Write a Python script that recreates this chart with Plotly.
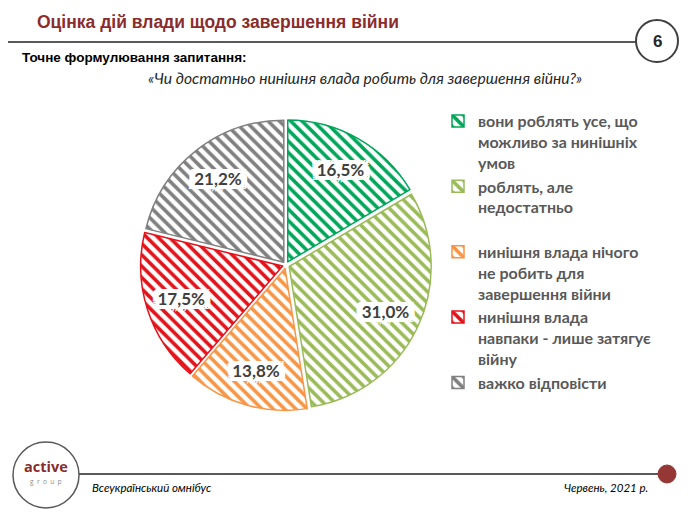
import plotly.graph_objects as go

# ---- data ----
categories = [
    "вони роблять усе, що<br>можливо за нинішніх<br>умов",
    "роблять, але<br>недостатньо<br> ",
    "нинішня влада нічого<br>не робить для<br>завершення війни",
    "нинішня влада<br>навпаки - лише затягує<br>війну",
    "важко відповісти",
]
values = [16.5, 31.0, 13.8, 17.5, 21.2]
colors = ["#00A65A", "#9BBB59", "#F79646", "#E3131B", "#808080"]
labels_text = [f"{v:.1f}".replace(".", ",") + "%" for v in values]

W, H = 699, 517


def px(x):
    return x / W


def py(y):
    return 1 - y / H


white_halo = ", ".join(
    f"{dx}px {dy}px 0 #ffffff" for dx in (-6, -3, 0, 3, 6) for dy in (-4, -2, 0, 2, 4)
)

pie_domain = dict(x=[px(140.5), px(431.5)], y=[py(410.5), py(119.5)])
pulls = [0.025] * len(values)

fig = go.Figure()
# patterned slices
fig.add_trace(
    go.Pie(
        labels=categories,
        values=values,
        textinfo="none",
        sort=False,
        direction="clockwise",
        rotation=0,
        pull=pulls,
        marker=dict(
            colors=colors,
            line=dict(color=colors, width=1.5),
            pattern=dict(
                shape="\\",
                fgcolor=colors,
                bgcolor="#ffffff",
                size=8,
                solidity=0.45,
                fillmode="replace",
            ),
        ),
        domain=pie_domain,
        hoverinfo="skip",
    )
)
# transparent ring carrying the percentage labels (places them toward the rim)
fig.add_trace(
    go.Pie(
        labels=categories,
        values=values,
        text=labels_text,
        textinfo="text",
        textposition="inside",
        insidetextorientation="horizontal",
        sort=False,
        direction="clockwise",
        rotation=0,
        pull=pulls,
        hole=0.5,
        showlegend=False,
        marker=dict(colors=["rgba(0,0,0,0)"] * len(values), line=dict(width=0)),
        textfont=dict(family="Lato", size=17, color="#404040", weight="bold", shadow=white_halo),
        domain=pie_domain,
        hoverinfo="skip",
    )
)

shapes = [
    # title underline
    dict(type="line", xref="paper", yref="paper", x0=px(8), x1=px(636), y0=py(42), y1=py(42),
         line=dict(color="#595959", width=2)),
    # page number circle
    dict(type="circle", xref="paper", yref="paper", x0=px(636), x1=px(678), y0=py(62), y1=py(20),
         line=dict(color="#404040", width=2), fillcolor="#ffffff"),
    # footer line
    dict(type="line", xref="paper", yref="paper", x0=px(79), x1=px(662), y0=py(474), y1=py(474),
         line=dict(color="#595959", width=2)),
    # red dot
    dict(type="circle", xref="paper", yref="paper", x0=px(658), x1=px(676), y0=py(483), y1=py(465),
         line=dict(color="#953735", width=1), fillcolor="#953735"),
    # logo circle
    dict(type="circle", xref="paper", yref="paper", x0=px(13), x1=px(79), y0=py(508), y1=py(442),
         line=dict(color="#595959", width=1.5), fillcolor="#ffffff"),
]

nb = "\u00a0"
annotations = [
    dict(text="<b>Оцінка дій влади щодо завершення війни</b>", x=px(35), y=py(22),
         xanchor="left", yanchor="middle", showarrow=False,
         font=dict(family="Liberation Sans", size=17.5, color="#8B2C2C")),
    dict(text="<b>6</b>", x=px(657), y=py(41), xanchor="center", yanchor="middle", showarrow=False,
         font=dict(family="Liberation Sans", size=17, color="#262626")),
    dict(text="<b>Точне формулювання запитання:</b>", x=px(20), y=py(57), xanchor="left", yanchor="middle",
         showarrow=False, font=dict(family="Liberation Sans", size=13.5, color="#000000")),
    dict(text="<i>«Чи достатньо нинішня влада робить для завершення війни?»</i>", x=px(365), y=py(78),
         xanchor="center", yanchor="middle", showarrow=False,
         font=dict(family="Lato", size=15.7, color="#262626")),
    dict(text="<b>active</b>", x=px(46), y=py(466), xanchor="center", yanchor="middle", showarrow=False,
         font=dict(family="Open Sans", size=14.5, color="#8B2C2C")),
    dict(text=(nb * 2).join("group"), x=px(46), y=py(481), xanchor="center", yanchor="middle",
         showarrow=False, font=dict(family="Open Sans", size=6.5, color="#8c8c8c")),
    dict(text="<i>Всеукраїнський омнібус</i>", x=px(90), y=py(487), xanchor="left", yanchor="middle",
         showarrow=False, font=dict(family="Lato", size=11.5, color="#000000")),
    dict(text="<i>Червень, 2021 р.</i>", x=px(650), y=py(487), xanchor="right", yanchor="middle",
         showarrow=False, font=dict(family="Lato", size=11.5, color="#000000")),
]

fig.update_layout(
    width=W,
    height=H,
    margin=dict(l=0, r=0, t=0, b=0),
    paper_bgcolor="#ffffff",
    plot_bgcolor="#ffffff",
    showlegend=True,
    legend=dict(
        x=px(438), y=py(104), xanchor="left", yanchor="top",
        font=dict(family="Lato", size=16, color="#595959", weight="bold"),
        valign="top", itemclick=False, itemdoubleclick=False,
        bgcolor="rgba(0,0,0,0)", tracegroupgap=0,
    ),
    shapes=shapes,
    annotations=annotations,
)

fig.write_html(
    "out.html",
    config={"displayModeBar": False},
    post_script="document.body.style.margin='0';",
)
